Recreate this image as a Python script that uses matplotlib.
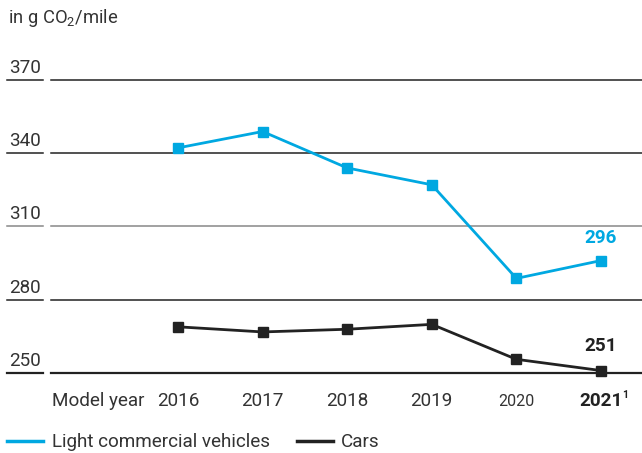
import matplotlib
matplotlib.use("Agg")
import matplotlib.pyplot as plt
from matplotlib.lines import Line2D

plt.rcParams["font.family"] = ["Roboto", "DejaVu Sans"]
plt.rcParams["mathtext.fontset"] = "custom"
plt.rcParams["mathtext.rm"] = "Roboto"
plt.rcParams["mathtext.it"] = "Roboto"

years = [2016, 2017, 2018, 2019, 2020, 2021]
lcv = [342.1, 348.8, 333.9, 327.0, 288.7, 296]
cars = [268.9, 266.8, 267.9, 269.9, 255.6, 251]
y_ticks = [250, 280, 310, 340, 370]

BLUE = "#00a8e1"
DARK = "#222222"
TEXT = "#333333"
FS = 13.6

W, H = 642, 453
fig = plt.figure(figsize=(W / 100, H / 100), dpi=100)
# axes spans the full width; plot area vertically from 250 to 370
ax = fig.add_axes([0, 80 / H, 1, 293.3 / H])
ax.set_xlim(2016 - 178 / 84.6, 2021 + 41 / 84.6)
ax.set_ylim(250, 370)
ax.axis("off")

ytr = ax.get_yaxis_transform()
for v in y_ticks:
    col = "#888888" if v == 310 else DARK
    lw = 1.6 if v == 250 else 1.1
    ax.plot([7 / W, 43 / W], [v, v], transform=ytr, color=col, lw=lw, clip_on=False)
    ax.plot([51 / W, 1], [v, v], transform=ytr, color=col, lw=lw, clip_on=False)
    ax.annotate(str(v), xy=(41 / W, v), xycoords=ytr, xytext=(0, 5),
                textcoords="offset points", ha="right", va="baseline",
                fontsize=FS, color=TEXT)

ax.plot(years, lcv, color=BLUE, lw=2.0, marker="s", ms=7.5, clip_on=False, zorder=3)
ax.plot(years, cars, color=DARK, lw=2.0, marker="s", ms=7.5, clip_on=False, zorder=3)

ax.annotate(f"{lcv[-1]:.0f}", xy=(years[-1], lcv[-1]), xytext=(0, 13),
            textcoords="offset points", ha="center", va="baseline",
            fontsize=FS, fontweight="bold", color=BLUE)
ax.annotate(f"{cars[-1]:.0f}", xy=(years[-1], cars[-1]), xytext=(0, 14),
            textcoords="offset points", ha="center", va="baseline",
            fontsize=FS, fontweight="bold", color=DARK)

# x labels
xtr = ax.get_xaxis_transform()
base = -33 / 293.3
fig.text(52 / W, 47 / H, "Model year", fontsize=FS, color=TEXT, va="baseline")
for yr in years:
    if yr == 2020:
        ax.text(yr, base, str(yr), transform=xtr, ha="center", va="baseline",
                fontsize=11.5, color=TEXT)
    elif yr == 2021:
        ax.text(yr, base, str(yr), transform=xtr, ha="center", va="baseline",
                fontsize=FS, fontweight="bold", color=DARK)
        ax.annotate("1", xy=(yr, base), xycoords=xtr, xytext=(15, 5.5),
                    textcoords="offset points", ha="left", va="baseline",
                    fontsize=7.5, fontweight="bold", color=DARK)
    else:
        ax.text(yr, base, str(yr), transform=xtr, ha="center", va="baseline",
                fontsize=FS, color=TEXT)

fig.text(8 / W, 1 - 23 / H, "in g CO$_2$/mile", fontsize=13.2, color=TEXT, va="baseline")

# legend
fig.add_artist(Line2D([7 / W, 43 / W], [1 - 441 / H] * 2, color=BLUE, lw=2.5))
fig.text(52 / W, 1 - 447 / H, "Light commercial vehicles", fontsize=FS,
         color=TEXT, va="baseline")
fig.add_artist(Line2D([297 / W, 333 / W], [1 - 441 / H] * 2, color=DARK, lw=2.5))
fig.text(341 / W, 1 - 447 / H, "Cars", fontsize=FS, color=TEXT, va="baseline")

fig.savefig("out.png", dpi=100)
